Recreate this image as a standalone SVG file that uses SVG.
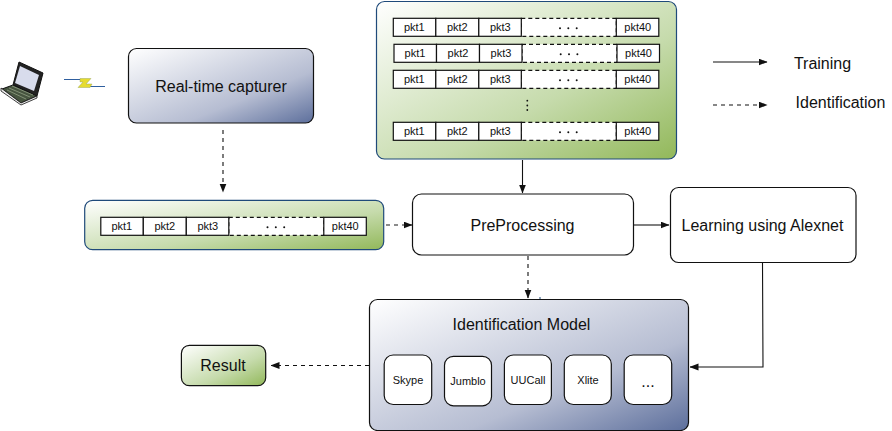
<svg xmlns="http://www.w3.org/2000/svg" width="892" height="431" viewBox="0 0 892 431">
<style>
text{font-family:"Liberation Sans",Arial,sans-serif;fill:#111;text-anchor:middle}
.t16{font-size:16px}.t11{font-size:11px}
.blue{fill:url(#gb);stroke:#111;stroke-width:1.2}
.green{fill:url(#gg);stroke:#1f4a7a;stroke-width:1.2}
.white{fill:#fff;stroke:#111;stroke-width:1.2}
.cell{fill:#fff;stroke:#111;stroke-width:1.2}
.gap{fill:#fff;stroke:#111;stroke-width:1.2;stroke-dasharray:4 3}
.s{fill:none;stroke:#111;stroke-width:1.1}
.d{fill:none;stroke:#111;stroke-width:1.1;stroke-dasharray:4 4}
.g{fill:none;stroke:#555;stroke-width:1.3}
.dg{fill:none;stroke:#666;stroke-width:1.5;stroke-dasharray:4 4}
</style>
<defs>
<linearGradient id="gb" x1="0" y1="0" x2="1" y2="1"><stop offset="0" stop-color="#fff"/><stop offset="0.65" stop-color="#b6bdd2"/><stop offset="1" stop-color="#5d6f9c"/></linearGradient>
<linearGradient id="gg" x1="0" y1="0" x2="1" y2="1"><stop offset="0" stop-color="#fff"/><stop offset="0.6" stop-color="#c6dbac"/><stop offset="1" stop-color="#92b85a"/></linearGradient>
<marker id="ah" markerWidth="9" markerHeight="8" refX="8.500" refY="3.500" orient="auto" markerUnits="userSpaceOnUse"><path d="M0 0L9 3.500L0 7z" fill="#111"/></marker>
<g id="strip">
<rect class="gap" x="128" y="0" width="95" height="18"/>
<rect class="cell" x="0" y="0" width="42.500" height="18"/>
<rect class="cell" x="42.500" y="0" width="43" height="18"/>
<rect class="cell" x="85.500" y="0" width="42.500" height="18"/>
<rect class="cell" x="223" y="0" width="42.500" height="18"/>
<text class="t11" x="21" y="13">pkt1</text>
<text class="t11" x="64" y="13">pkt2</text>
<text class="t11" x="107" y="13">pkt3</text>
<text class="t11" x="244.500" y="13">pkt40</text>
<circle cx="166.700" cy="10" r="1" fill="#111"/><circle cx="175" cy="10" r="1" fill="#111"/><circle cx="183.400" cy="10" r="1" fill="#111"/>
</g>
</defs>

<g id="connectors">
<path class="d" d="M223 130V192" marker-end="url(#ah)"/>
<path class="s" d="M522.500 160V193" marker-end="url(#ah)"/>
<path class="dg" d="M386 225H412" marker-end="url(#ah)"/>
<path class="g" d="M634 225H669" marker-end="url(#ah)"/>
<path class="d" d="M528 256V298" marker-end="url(#ah)"/>
<path d="M540 297V300" stroke="#1f4a7a" stroke-width="1" fill="none"/>
<path class="s" d="M762.500 263L763 367H690" marker-end="url(#ah)"/>
<path class="d" d="M369 365.500H271" marker-end="url(#ah)"/>
<path class="s" d="M713 62H767" marker-end="url(#ah)"/>
<path class="d" d="M713 105H767" marker-end="url(#ah)"/>
</g>

<g id="laptop">
<path d="M19 62L43 73L37 96L13 85z" fill="#222" stroke="#111"/>
<path d="M20 66L39 75L34 91L15 83z" fill="#d8dcec"/>
<path d="M13 85L37 96L21 103L2 89z" fill="#46543f" stroke="#111"/>
<path d="M1 88L21 103L37 96V98L21 105L1 91z" fill="#eee" stroke="#111" stroke-width="0.8"/>
<path d="M9 88L30 97M7 90L26 99M12 86L33 95" stroke="#a9b89a" stroke-width="0.6" fill="none"/>
</g>
<g id="bolt-icon">
<path d="M64 79.500H83M86 86.500H105" stroke="#2f5f9f" stroke-width="1" fill="none"/>
<path d="M80 78.500H91L86 84H92L90 87.500H78L83 82H80z" fill="#e6dc2e" stroke="#8a9a50" stroke-width="0.4"/>
</g>

<g id="capturer">
<rect class="blue" x="128.500" y="48.500" width="185" height="74.500" rx="8"/>
<text class="t16" x="221" y="92">Real-time capturer</text>
</g>

<g id="training-set">
<rect class="green" x="376.500" y="1.500" width="300" height="157.500" rx="8"/>
<use href="#strip" x="393.300" y="18.300"/>
<use href="#strip" x="394" y="44.300"/>
<use href="#strip" x="393.300" y="70.300"/>
<use href="#strip" x="393.300" y="122.300"/>
<circle cx="527.300" cy="100.700" r="0.9" fill="#111"/><circle cx="527.300" cy="105.500" r="0.9" fill="#111"/><circle cx="527.300" cy="110" r="0.9" fill="#111"/>
</g>

<g id="capture-set">
<rect class="green" x="84.700" y="200.300" width="299" height="49.400" rx="8"/>
<use href="#strip" x="100.800" y="217.300"/>
</g>

<g id="preprocessing">
<rect class="white" x="412.500" y="194" width="221" height="61" rx="9"/>
<text class="t16" x="522.500" y="231">PreProcessing</text>
</g>

<g id="learning">
<rect class="white" x="670.500" y="187.500" width="185.500" height="75" rx="8"/>
<text class="t16" x="762.500" y="231">Learning using Alexnet</text>
</g>

<g id="model">
<rect class="blue" x="369.500" y="299.500" width="319" height="131" rx="8"/>
<text class="t16" x="521.500" y="330">Identification Model</text>
<g id="skype"><rect class="white" x="384.200" y="355" width="47.500" height="49.500" rx="9"/><text class="t11" x="408" y="384">Skype</text></g>
<g id="jumblo"><rect class="white" x="444.500" y="356.300" width="47" height="49.500" rx="9"/><text class="t11" x="468" y="385">Jumblo</text></g>
<g id="uucall"><rect class="white" x="504.400" y="355" width="47" height="49.500" rx="9"/><text class="t11" x="528" y="384">UUCall</text></g>
<g id="xlite"><rect class="white" x="564.300" y="355" width="47" height="49.500" rx="9"/><text class="t11" x="588" y="384">Xlite</text></g>
<g id="more"><rect class="white" x="624.200" y="355" width="47.500" height="49.500" rx="9"/><text class="t16" x="648" y="387">...</text></g>
</g>

<g id="result">
<rect class="green" style="stroke:#111" x="181.400" y="345.300" width="84.300" height="40.400" rx="8"/>
<text class="t16" x="223" y="371">Result</text>
</g>

<g id="legend">
<text class="t16" x="822.500" y="69">Training</text>
<text class="t16" x="840.500" y="108">Identification</text>
</g>
</svg>
